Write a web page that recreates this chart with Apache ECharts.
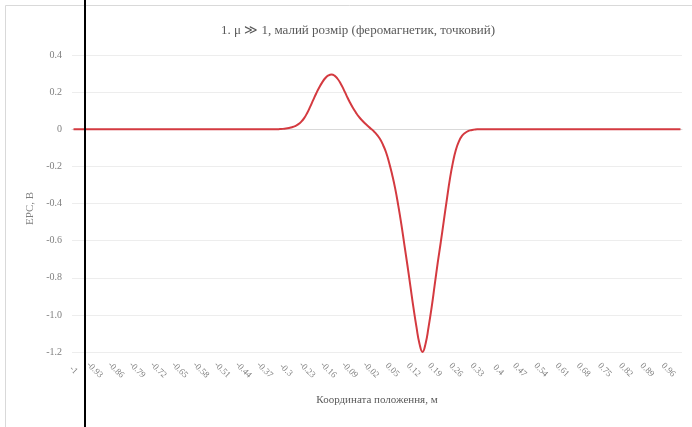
<!DOCTYPE html>
<html>
<head>
<meta charset="utf-8">
<script src="https://cdn.jsdelivr.net/npm/echarts@6/dist/echarts.min.js"></script>
<style>
  html, body { margin: 0; padding: 0; background: #fff; }
  #chart { width: 692px; height: 427px; }
</style>
</head>
<body>
<div id="chart"></div>
<script>
// Sensor position along the path, m (step 0.01)
const positions = [
  -1, -0.99, -0.98, -0.97, -0.96, -0.95, -0.94, -0.93, -0.92, -0.91,
  -0.9, -0.89, -0.88, -0.87, -0.86, -0.85, -0.84, -0.83, -0.82, -0.81,
  -0.8, -0.79, -0.78, -0.77, -0.76, -0.75, -0.74, -0.73, -0.72, -0.71,
  -0.7, -0.69, -0.68, -0.67, -0.66, -0.65, -0.64, -0.63, -0.62, -0.61,
  -0.6, -0.59, -0.58, -0.57, -0.56, -0.55, -0.54, -0.53, -0.52, -0.51,
  -0.5, -0.49, -0.48, -0.47, -0.46, -0.45, -0.44, -0.43, -0.42, -0.41,
  -0.4, -0.39, -0.38, -0.37, -0.36, -0.35, -0.34, -0.33, -0.32, -0.31,
  -0.3, -0.29, -0.28, -0.27, -0.26, -0.25, -0.24, -0.23, -0.22, -0.21,
  -0.2, -0.19, -0.18, -0.17, -0.16, -0.15, -0.14, -0.13, -0.12, -0.11,
  -0.1, -0.09, -0.08, -0.07, -0.06, -0.05, -0.04, -0.03, -0.02, -0.01,
  0, 0.01, 0.02, 0.03, 0.04, 0.05, 0.06, 0.07, 0.08, 0.09,
  0.1, 0.11, 0.12, 0.13, 0.14, 0.15, 0.16, 0.17, 0.18, 0.19,
  0.2, 0.21, 0.22, 0.23, 0.24, 0.25, 0.26, 0.27, 0.28, 0.29,
  0.3, 0.31, 0.32, 0.33, 0.34, 0.35, 0.36, 0.37, 0.38, 0.39,
  0.4, 0.41, 0.42, 0.43, 0.44, 0.45, 0.46, 0.47, 0.48, 0.49,
  0.5, 0.51, 0.52, 0.53, 0.54, 0.55, 0.56, 0.57, 0.58, 0.59,
  0.6, 0.61, 0.62, 0.63, 0.64, 0.65, 0.66, 0.67, 0.68, 0.69,
  0.7, 0.71, 0.72, 0.73, 0.74, 0.75, 0.76, 0.77, 0.78, 0.79,
  0.8, 0.81, 0.82, 0.83, 0.84, 0.85, 0.86, 0.87, 0.88, 0.89,
  0.9, 0.91, 0.92, 0.93, 0.94, 0.95, 0.96, 0.97, 0.98, 0.99,
  1
];

// Induced EMF, V
const emfValues = [
  0, 0, 0, 0, 0, 0, 0, 0, 0, 0,
  0, 0, 0, 0, 0, 0, 0, 0, 0, 0,
  0, 0, 0, 0, 0, 0, 0, 0, 0, 0,
  0, 0, 0, 0, 0, 0, 0, 0, 0, 0,
  0, 0, 0, 0, 0, 0, 0, 0, 0, 0,
  0, 0, 0, 0, 0, 0, 0, 0, 0, 0,
  0, 0, 0, 0, 0, 0, 0, 0, 0.001, 0.002,
  0.004, 0.007, 0.011, 0.017, 0.026, 0.04, 0.06, 0.088, 0.122, 0.158,
  0.194, 0.226, 0.254, 0.276, 0.29, 0.295, 0.289, 0.272, 0.247, 0.215,
  0.18, 0.147, 0.117, 0.091, 0.068, 0.049, 0.032, 0.017, 0.003, -0.012,
  -0.03, -0.053, -0.085, -0.125, -0.18, -0.245, -0.32, -0.41, -0.51, -0.62,
  -0.73, -0.845, -0.96, -1.065, -1.155, -1.2, -1.155, -1.065, -0.96, -0.84,
  -0.72, -0.61, -0.495, -0.38, -0.27, -0.18, -0.11, -0.065, -0.036, -0.02,
  -0.01, -0.005, -0.002, 0, 0, 0, 0, 0, 0, 0,
  0, 0, 0, 0, 0, 0, 0, 0, 0, 0,
  0, 0, 0, 0, 0, 0, 0, 0, 0, 0,
  0, 0, 0, 0, 0, 0, 0, 0, 0, 0,
  0, 0, 0, 0, 0, 0, 0, 0, 0, 0,
  0, 0, 0, 0, 0, 0, 0, 0, 0, 0,
  0, 0, 0, 0, 0, 0, 0, 0, 0, 0,
  0
];

const titleText = '1. μ ≫ 1, малий розмір (феромагнетик, точковий)';
const xAxisName = 'Координата положення, м';
const yAxisName = 'ЕРС, В';

const serif = '"Liberation Serif", "DejaVu Serif", serif';

const chart = echarts.init(document.getElementById('chart'), null, { renderer: 'canvas' });

chart.setOption({
  backgroundColor: '#ffffff',
  animation: false,
  title: {
    text: titleText,
    left: 353,
    top: 19,
    textAlign: 'center',
    textStyle: { fontFamily: serif, fontSize: 13, fontWeight: 'normal', color: '#595959' }
  },
  grid: { left: 72, right: 10, top: 55, bottom: 75, containLabel: false },
  xAxis: {
    type: 'category',
    data: positions.map(String),
    boundaryGap: true,
    name: xAxisName,
    nameLocation: 'middle',
    nameGap: 43,
    nameTextStyle: { fontFamily: serif, fontSize: 11, color: '#595959' },
    axisLine: { lineStyle: { color: '#d9d9d9', width: 1 } },
    axisTick: { show: false },
    axisLabel: {
      interval: 6,
      rotate: -45,
      align: 'center',
      verticalAlign: 'middle',
      margin: 18,
      fontFamily: serif,
      fontSize: 9,
      color: '#7f7f7f'
    },
    splitLine: { show: false }
  },
  yAxis: {
    type: 'value',
    min: -1.2,
    max: 0.4,
    interval: 0.2,
    name: yAxisName,
    nameLocation: 'middle',
    nameGap: 36,
    nameTextStyle: { fontFamily: serif, fontSize: 11, color: '#7f7f7f', padding: [0, 10, 0, 0] },
    axisLine: { show: false },
    axisTick: { show: false },
    axisLabel: {
      margin: 10,
      fontFamily: serif,
      fontSize: 10,
      color: '#7f7f7f',
      formatter: v => (Math.abs(v) < 1e-9 ? '0' : v.toFixed(1))
    },
    splitLine: { lineStyle: { color: '#ededed', width: 1 } }
  },
  series: [{
    type: 'line',
    data: emfValues,
    smooth: 0.5,
    showSymbol: false,
    lineStyle: { color: '#d43a40', width: 2 },
    z: 3
  }],
  graphic: [
    {
      type: 'rect',
      shape: { x: 5.5, y: 5.5, width: 700, height: 430 },
      style: { fill: 'none', stroke: '#d9d9d9', lineWidth: 1 },
      silent: true,
      z: -1
    },
    {
      type: 'line',
      shape: { x1: 85, y1: 0, x2: 85, y2: 427 },
      style: { stroke: '#000000', lineWidth: 2 },
      silent: true,
      z: 100
    }
  ]
});
</script>
</body>
</html>
